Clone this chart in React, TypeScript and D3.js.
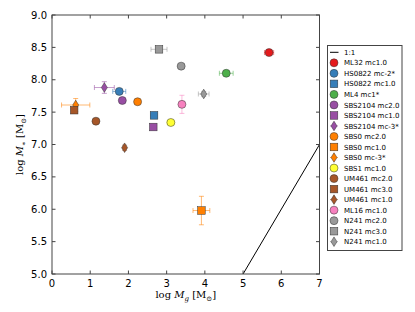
import React, { useEffect, useRef } from "react";
import * as d3 from "d3";

// galaxy fits: log Mg vs log M*
const names = [
  "ML32 mc1.0", "HS0822 mc-2*", "HS0822 mc1.0", "ML4 mc1*",
  "SBS2104 mc2.0", "SBS2104 mc1.0", "SBS2104 mc-3*",
  "SBS0 mc2.0", "SBS0 mc1.0", "SBS0 mc-3*", "SBS1 mc1.0",
  "UM461 mc2.0", "UM461 mc3.0", "UM461 mc1.0", "ML16 mc1.0",
  "N241 mc2.0", "N241 mc3.0", "N241 mc1.0",
];
const logMg = [5.68, 1.76, 2.67, 4.56, 1.84, 2.65, 1.37, 2.24, 3.91, 0.62, 3.11, 1.15, 0.58, 1.9, 3.4, 3.38, 2.8, 3.97];
const logMs = [8.42, 7.82, 7.45, 8.1, 7.68, 7.27, 7.88, 7.66, 5.98, 7.61, 7.34, 7.36, 7.53, 6.95, 7.62, 8.21, 8.47, 7.78];
const errX = [0.12, 0.17, 0.08, 0.18, 0, 0, 0.26, 0, 0.22, 0.37, 0.1, 0, 0, 0, 0, 0.08, 0.21, 0.14];
const errY = [0.03, 0.03, 0.05, 0.04, 0, 0, 0.09, 0, 0.22, 0.1, 0.02, 0, 0, 0.04, 0.14, 0.03, 0.03, 0.04];
const colors = [
  "#e41a1c", "#377eb8", "#377eb8", "#4daf4a", "#984ea3", "#984ea3", "#984ea3",
  "#ff7f00", "#ff7f00", "#ff7f00", "#ffff33", "#a65628", "#a65628", "#a65628",
  "#f781bf", "#999999", "#999999", "#999999",
];
const markers = ["o", "o", "s", "o", "o", "s", "d", "o", "s", "d", "o", "o", "s", "d", "o", "o", "s", "d"];
const xTicks = [0, 1, 2, 3, 4, 5, 6, 7];
const yTicks = [5.0, 5.5, 6.0, 6.5, 7.0, 7.5, 8.0, 8.5, 9.0];

function drawMarker(g: any, m: string, cx: number, cy: number, color: string) {
  if (m === "o") {
    g.append("circle").attr("cx", cx).attr("cy", cy).attr("r", 4)
      .attr("fill", color).attr("stroke", "#333").attr("stroke-width", 0.5);
  } else if (m === "s") {
    g.append("rect").attr("x", cx - 3.8).attr("y", cy - 3.8).attr("width", 7.6).attr("height", 7.6)
      .attr("fill", color).attr("stroke", "#333").attr("stroke-width", 0.5);
  } else {
    const h = 4.8, w = 3;
    g.append("path")
      .attr("d", `M${cx},${cy - h}L${cx + w},${cy}L${cx},${cy + h}L${cx - w},${cy}Z`)
      .attr("fill", color).attr("stroke", "#333").attr("stroke-width", 0.5);
  }
}

export default function App() {
  const ref = useRef<SVGSVGElement>(null);

  useEffect(() => {
    const svg = d3.select(ref.current);
    svg.selectAll("*").remove();
    const left = 52, right = 319.5, top = 15, bottom = 274;
    const x = d3.scaleLinear().domain([0, 7]).range([left, right]);
    const y = d3.scaleLinear().domain([5, 9]).range([bottom, top]);
    const font = "DejaVu Sans, sans-serif";

    svg.append("rect").attr("width", 415).attr("height", 312).attr("fill", "#fff");

    // 1:1 line
    svg.append("clipPath").attr("id", "clip").append("rect")
      .attr("x", left).attr("y", top).attr("width", right - left).attr("height", bottom - top);
    svg.append("line").attr("clip-path", "url(#clip)")
      .attr("x1", x(5)).attr("y1", y(5)).attr("x2", x(7)).attr("y2", y(7))
      .attr("stroke", "#000").attr("stroke-width", 1);

    // error bars
    const eb = svg.append("g");
    logMg.forEach((mg, i) => {
      const cx = x(mg), cy = y(logMs[i]);
      const c = colors[i];
      if (errX[i] > 0) {
        const x0 = x(mg - errX[i]), x1 = x(mg + errX[i]);
        eb.append("line").attr("x1", x0).attr("x2", x1).attr("y1", cy).attr("y2", cy)
          .attr("stroke", c).attr("stroke-opacity", 0.55);
        [x0, x1].forEach((xx) => eb.append("line").attr("x1", xx).attr("x2", xx)
          .attr("y1", cy - 2.5).attr("y2", cy + 2.5).attr("stroke", c).attr("stroke-opacity", 0.55));
      }
      if (errY[i] > 0) {
        const y0 = y(logMs[i] - errY[i]), y1 = y(logMs[i] + errY[i]);
        eb.append("line").attr("x1", cx).attr("x2", cx).attr("y1", y0).attr("y2", y1)
          .attr("stroke", c).attr("stroke-opacity", 0.55);
        [y0, y1].forEach((yy) => eb.append("line").attr("y1", yy).attr("y2", yy)
          .attr("x1", cx - 2.5).attr("x2", cx + 2.5).attr("stroke", c).attr("stroke-opacity", 0.55));
      }
    });

    const pts = svg.append("g");
    logMg.forEach((mg, i) => drawMarker(pts, markers[i], x(mg), y(logMs[i]), colors[i]));

    // frame and ticks (inward, all four sides)
    svg.append("rect").attr("x", left).attr("y", top).attr("width", right - left).attr("height", bottom - top)
      .attr("fill", "none").attr("stroke", "#444").attr("stroke-width", 1);
    const tk = svg.append("g").attr("stroke", "#444");
    xTicks.forEach((t) => {
      tk.append("line").attr("x1", x(t)).attr("x2", x(t)).attr("y1", bottom).attr("y2", bottom - 3.5);
      tk.append("line").attr("x1", x(t)).attr("x2", x(t)).attr("y1", top).attr("y2", top + 3.5);
      svg.append("text").attr("x", x(t)).attr("y", bottom + 13).attr("text-anchor", "middle")
        .style("font-family", font).style("font-size", "10px").text(d3.format("d")(t));
    });
    yTicks.forEach((t) => {
      tk.append("line").attr("y1", y(t)).attr("y2", y(t)).attr("x1", left).attr("x2", left + 3.5);
      tk.append("line").attr("y1", y(t)).attr("y2", y(t)).attr("x1", right).attr("x2", right - 3.5);
      svg.append("text").attr("x", left - 5).attr("y", y(t) + 3.5).attr("text-anchor", "end")
        .style("font-family", font).style("font-size", "10px").text(d3.format(".1f")(t));
    });

    // axis labels
    const serif = "DejaVu Serif, serif";
    const xl = svg.append("text").attr("x", (left + right) / 2).attr("y", 298).attr("text-anchor", "middle")
      .style("font-family", serif).style("font-size", "10px");
    xl.append("tspan").text("log ");
    xl.append("tspan").style("font-style", "italic").text("M");
    xl.append("tspan").attr("dy", 2.5).style("font-size", "7px").style("font-style", "italic").text("g");
    xl.append("tspan").attr("dy", -2.5).text(" [M");
    xl.append("tspan").attr("dy", 2.5).style("font-size", "7px").text("⊙");
    xl.append("tspan").attr("dy", -2.5).text("]");

    const yl = svg.append("text").attr("transform", `translate(23,${(top + bottom) / 2}) rotate(-90)`)
      .attr("text-anchor", "middle").style("font-family", serif).style("font-size", "10px");
    yl.append("tspan").text("log ");
    yl.append("tspan").style("font-style", "italic").text("M");
    yl.append("tspan").attr("dy", 2.5).style("font-size", "7px").text("∗");
    yl.append("tspan").attr("dy", -2.5).text(" [M");
    yl.append("tspan").attr("dy", 2.5).style("font-size", "7px").text("⊙");
    yl.append("tspan").attr("dy", -2.5).text("]");

    // legend
    const lg = svg.append("g");
    lg.append("rect").attr("x", 327.5).attr("y", 45.5).attr("width", 74.5).attr("height", 205)
      .attr("fill", "#fff").attr("stroke", "#444").attr("stroke-width", 1);
    const ly = d3.scaleLinear().domain([0, 18]).range([52.3, 241.7]);
    lg.append("line").attr("x1", 330).attr("x2", 338.5).attr("y1", ly(0)).attr("y2", ly(0))
      .attr("stroke", "#000");
    lg.append("text").attr("x", 344).attr("y", ly(0) + 2.6)
      .style("font-family", font).style("font-size", "7px").text("1:1");
    names.forEach((n, i) => {
      const yy = ly(i + 1);
      if (errX[i] > 0 || errY[i] > 0) {
        lg.append("line").attr("x1", 330).attr("x2", 338).attr("y1", yy).attr("y2", yy)
          .attr("stroke", colors[i]).attr("stroke-opacity", 0.55);
        lg.append("line").attr("x1", 334).attr("x2", 334).attr("y1", yy - 4).attr("y2", yy + 4)
          .attr("stroke", colors[i]).attr("stroke-opacity", 0.55);
      }
      drawMarker(lg, markers[i], 334, yy, colors[i]);
      lg.append("text").attr("x", 344).attr("y", yy + 2.6)
        .style("font-family", font).style("font-size", "7px").text(n);
    });
  }, []);

  return (
    <svg ref={ref} width={415} height={312}
      style={{ position: "absolute", left: 0, top: 0, display: "block" }} />
  );
}
